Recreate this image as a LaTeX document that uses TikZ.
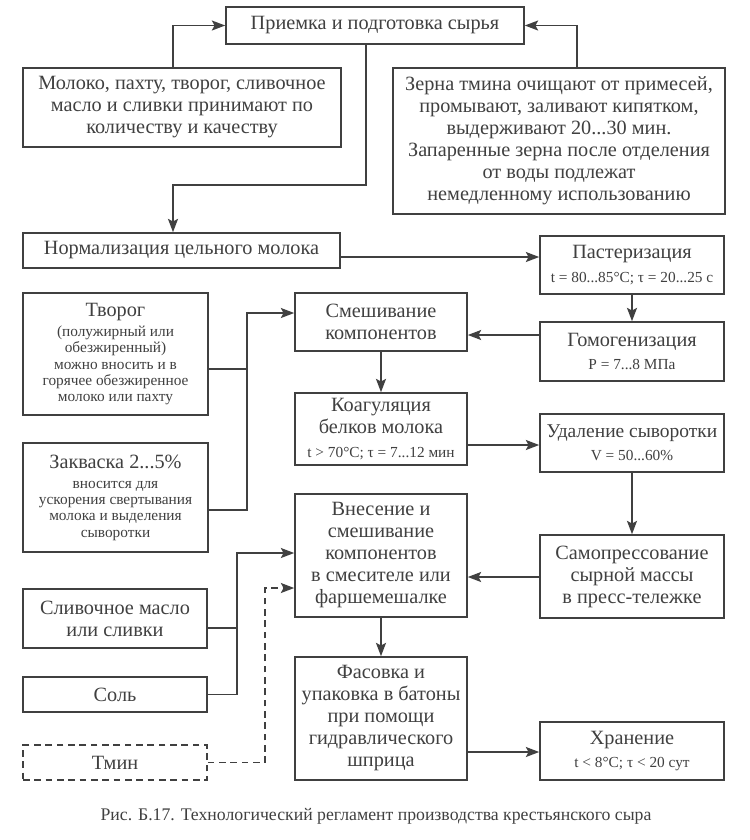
\documentclass[tikz,border=0pt]{standalone}
\usepackage{fontspec}
\setmainfont{Liberation Serif}
\usetikzlibrary{arrows.meta}
\newcommand\bigf{\fontsize{15.2}{16.5}\selectfont}
\newcommand\smf{\fontsize{11.5}{12.2}\selectfont}
\definecolor{ink}{gray}{0.25}
\begin{document}
\begin{tikzpicture}[x=0.75pt,y=-0.75pt,
  box/.style={draw=ink, line width=1.2pt, text=ink, align=center, inner sep=0pt, font=\bigf},
  arr/.style={draw=ink, line width=1.2pt, -{Stealth[length=10pt,width=7.5pt,inset=2pt]}},
  ln/.style={draw=ink, line width=1.2pt},
  dsh/.style={dash pattern=on 5pt off 3.5pt}]
\useasboundingbox[fill=white] (0,0) rectangle (750,840);
% main boxes
\node[box, minimum width=298*0.75pt, minimum height=37*0.75pt] (top) at (375,25.5) {Приемка и подготовка сырья};
\node[box, minimum width=318*0.75pt, minimum height=79*0.75pt] (milk) at (182,107.5) {Молоко, пахту, творог, сливочное\\ масло и сливки принимают по\\ количеству и качеству};
\node[box, minimum width=332*0.75pt, minimum height=146*0.75pt] (cara) at (559,141) {Зерна тмина очищают от примесей,\\ промывают, заливают кипятком,\\ выдерживают 20...30 мин.\\ Запаренные зерна после отделения\\ от воды подлежат\\ немедленному использованию};
\node[box, minimum width=317*0.75pt, minimum height=35*0.75pt] (norm) at (181.5,250.5) {Нормализация цельного молока};
\node[box, minimum width=184*0.75pt, minimum height=58*0.75pt] (past) at (632,265) {Пастеризация\\[1pt] \smf t = 80...85°C; τ = 20...25 с};
\node[box, minimum width=184*0.75pt, minimum height=59*0.75pt] (homog) at (632,351.5) {Гомогенизация\\[1pt] \smf P = 7...8 МПа};
\node[box, minimum width=172*0.75pt, minimum height=58*0.75pt] (mix) at (381,322) {Смешивание\\ компонентов};
\node[box, minimum width=172*0.75pt, minimum height=72*0.75pt] (coag) at (381,429) {Коагуляция\\ белков молока\\[1pt] \smf t > 70°C; τ = 7...12 мин};
\node[box, minimum width=184*0.75pt, minimum height=58*0.75pt] (whey) at (632,443) {\fontsize{14.6}{16.5}\selectfont Удаление сыворотки\\[1pt] \smf V = 50...60\%};
\node[box, minimum width=184*0.75pt, minimum height=83*0.75pt] (press) at (632,576.5) {Самопрессование\\ сырной массы\\ в пресс-тележке};
\node[box, minimum width=172*0.75pt, minimum height=123*0.75pt] (add) at (381,555.5) {Внесение и\\ смешивание\\ компонентов\\ в смесителе или\\ фаршемешалке};
\node[box, minimum width=172*0.75pt, minimum height=123*0.75pt] (pack) at (381,718.5) {Фасовка и\\ упаковка в батоны\\ при помощи\\ гидравлического\\ шприца};
\node[box, minimum width=184*0.75pt, minimum height=58*0.75pt] (store) at (632,751) {Хранение\\[1pt] \smf t < 8°C; τ < 20 сут};
% left column
\node[box, font=\smf, minimum width=185*0.75pt, minimum height=122*0.75pt] (tvorog) at (115.5,354) {\bigf Творог\\[3pt] (полужирный или\\ обезжиренный)\\ можно вносить и в\\ горячее обезжиренное\\ молоко или пахту};
\node[box, font=\smf, minimum width=185*0.75pt, minimum height=109*0.75pt] (zakv) at (115.5,497.5) {\bigf Закваска 2...5\%\\[3pt] вносится для\\ ускорения свертывания\\ молока и выделения\\ сыворотки};
\node[box, minimum width=184*0.75pt, minimum height=59*0.75pt] (butter) at (115,618.5) {Сливочное масло\\ или сливки};
\node[box, minimum width=184*0.75pt, minimum height=35*0.75pt] (salt) at (115,694.5) {Соль};
\node[box, dsh, minimum width=184*0.75pt, minimum height=35*0.75pt] (cumin) at (115,762.5) {Тмин};
% caption
\node[text=ink, font=\fontsize{13.3}{15}\selectfont, inner sep=0pt] (cap) at (376,816) {Рис. Б.17. Технологический регламент производства крестьянского сыра};
% helper coordinates
\coordinate (c1) at (173,0);
\coordinate (c2) at (577,0);
\coordinate (c3) at (366,185);
\coordinate (c4) at (173,185);
\coordinate (y257) at (0,257);
\coordinate (y335) at (0,335);
\coordinate (y445) at (0,445);
\coordinate (y577) at (0,577);
\coordinate (y752) at (0,752);
\coordinate (y369) at (0,369);
\coordinate (y510) at (0,510);
\coordinate (y628) at (0,628);
\coordinate (j1) at (247,313);
\coordinate (j2) at (237,553);
\coordinate (j3) at (265,588);
% connectors
\draw[arr] (c1 |- milk.north) |- (top.west);
\draw[arr] (c2 |- cara.north) |- (top.east);
\draw[arr] (c3 |- top.south) -- (c3) -- (c4) -- (c4 |- norm.north);
\draw[arr] (norm.east |- y257) -- (past.west |- y257);
\draw[arr] (past.south) -- (homog.north);
\draw[arr] (homog.west |- y335) -- (mix.east |- y335);
\draw[arr] (mix.south) -- (coag.north);
\draw[arr] (coag.east |- y445) -- (whey.west |- y445);
\draw[arr] (whey.south) -- (press.north);
\draw[arr] (press.west |- y577) -- (add.east |- y577);
\draw[arr] (add.south) -- (pack.north);
\draw[arr] (pack.east |- y752) -- (store.west |- y752);
\draw[ln] (tvorog.east |- y369) -- (j1 |- y369);
\draw[arr] (zakv.east |- y510) -| (j1) -- (mix.west |- j1);
\draw[ln] (butter.east |- y628) -- (j2 |- y628);
\draw[arr] (salt.east) -| (j2) -- (add.west |- j2);
\draw[arr, dsh] (cumin.east) -| (j3) -- (add.west |- j3);
\end{tikzpicture}
\end{document}
